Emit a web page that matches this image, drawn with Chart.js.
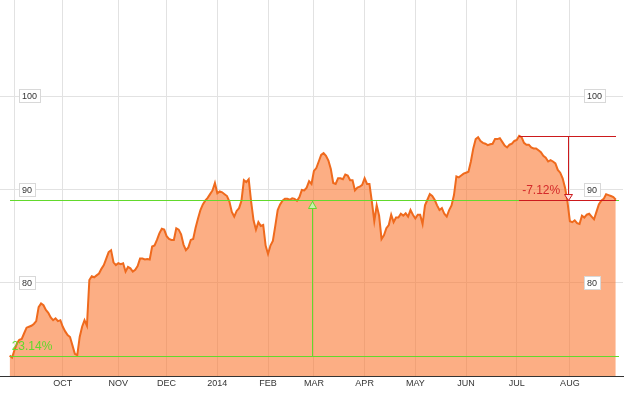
<!DOCTYPE html>
<html>
<head>
<meta charset="utf-8">
<style>
  html, body { margin: 0; padding: 0; background: #fff; }
  canvas { display: block; }
</style>
</head>
<body>
<canvas id="priceChart" width="632" height="393"></canvas>

<script src="https://cdn.jsdelivr.net/npm/chart.js"></script>
<script>
// daily closes, one per trading day, late Aug 2013 -> late Aug 2014
const price = [
  72.2, 72.0, 72.8, 73.5, 73.9, 74.0, 74.6, 75.2, 75.3, 75.4,
  75.6, 75.9, 77.4, 77.8, 77.6, 77.1, 76.8, 76.3, 76.0, 76.2,
  75.9, 76.0, 75.3, 74.8, 74.4, 74.2, 73.3, 72.4, 72.25, 74.2,
  75.3, 76.0, 75.4, 80.3, 80.7, 80.6, 80.8, 81.0, 81.5, 81.9,
  82.6, 83.3, 83.5, 82.2, 81.9, 82.1, 82.0, 82.1, 81.2, 81.7,
  81.55, 81.2, 81.4, 81.8, 82.6, 82.6, 82.5, 82.55, 82.5, 83.9,
  84.0, 84.6, 85.3, 85.8, 85.7, 85.0, 84.7, 84.6, 84.6, 85.85,
  85.7, 85.2, 84.1, 83.5, 83.8, 84.6, 84.7, 85.9, 86.9, 87.8,
  88.4, 88.8, 89.1, 89.5, 89.9, 90.7, 89.6, 89.8, 89.7, 89.5,
  89.3, 88.7, 87.6, 87.1, 87.7, 88.0, 88.8, 91.0, 90.8, 91.1,
  88.7, 86.7, 85.7, 86.5, 86.1, 86.2, 84.0, 83.1, 84.0, 84.5,
  86.1, 87.8, 88.4, 88.8, 89.0, 89.0, 88.9, 89.05, 89.0, 88.8,
  89.2, 89.95, 89.9, 90.2, 90.9, 90.6, 92.0, 92.3, 93.0, 93.7,
  93.9, 93.6, 93.1, 92.2, 90.7, 90.6, 91.2, 91.2, 91.1, 91.6,
  91.5, 91.0, 91.0, 89.9, 90.2, 90.3, 90.5, 91.2, 90.6, 90.6,
  88.7, 86.6, 88.3, 87.2, 84.7, 85.1, 85.85, 86.2, 87.3, 86.5,
  87.0, 87.0, 87.4, 87.2, 87.45, 87.1, 87.8, 87.3, 86.9, 87.3,
  87.3, 86.3, 88.3, 88.9, 89.5, 89.3, 88.9, 88.3, 87.8, 88.0,
  87.4, 87.1, 87.8, 88.3, 89.4, 91.4, 91.3, 91.5, 91.7, 91.8,
  91.9, 93.0, 94.4, 95.4, 95.6, 95.2, 95.0, 94.9, 94.75, 94.85,
  94.9, 95.4, 95.4, 95.5, 95.1, 94.7, 94.5, 94.8, 94.9, 95.2,
  95.3, 95.75, 95.6, 95.0, 94.8, 94.8, 94.5, 94.4, 94.4, 94.2,
  94.0, 93.6, 93.4, 93.0, 93.15, 93.0, 92.8, 92.1, 91.8, 91.2,
  90.2, 88.7, 86.6, 86.5, 86.7, 86.4, 86.3, 87.2, 87.0, 87.3,
  87.4, 87.1, 86.8, 87.6, 88.4, 88.8, 89.0, 89.5, 89.4, 89.3,
  89.2, 88.9
];

// first trading day of each month (index into price)
const monthStart = [2, 22, 45, 65, 86, 107, 126, 147, 168, 189, 210, 232];
const monthNames = ['', 'OCT', 'NOV', 'DEC', '2014', 'FEB', 'MAR', 'APR', 'MAY', 'JUN', 'JUL', 'AUG'];
const yLabels = [80, 90, 100];
const gainText = '23.14%';
const dropText = '-7.12%';

const padLeft = 4, padRight = 3;
const green = '#62d92c';
const red = '#cc1a1d';

const labels = [];
const series = [];
for (let i = 0; i < padLeft + price.length + padRight; i++) {
  const j = i - padLeft;
  labels.push(String(i));
  series.push(j >= 0 && j < price.length ? price[j] : null);
}

// 1px lines as rects on even pixels so the colour survives the photo
const snap = v => 2 * Math.round(v / 2);
function hline(ctx, x1, x2, y) {
  ctx.fillRect(Math.round(x1), y, Math.round(x2 - x1), 1);
}
function vline(ctx, x, y1, y2) {
  ctx.fillRect(x, Math.min(y1, y2), 1, Math.abs(y2 - y1));
}

const rangeMarks = {
  id: 'rangeMarks',
  afterDatasetsDraw(chart) {
    const { ctx, scales: { x, y } } = chart;
    const px = j => x.getPixelForValue(j + padLeft);
    const last = price.length - 1;
    const hi = price.indexOf(Math.max(...price));
    const yStart = snap(y.getPixelForValue(price[0]));
    const yEnd = snap(y.getPixelForValue(price[last]));
    const yHi = snap(y.getPixelForValue(price[hi]));

    ctx.save();
    ctx.lineWidth = 1;
    ctx.font = '12px Arial, "Liberation Sans", sans-serif';

    // whole-period gain
    ctx.fillStyle = green;
    hline(ctx, px(0), px(last) + 3, yEnd);
    hline(ctx, px(0), px(last) + 3, yStart);
    const gm = snap(px(last / 2));
    vline(ctx, gm, yStart, yEnd);
    ctx.beginPath();
    ctx.moveTo(gm + 0.5, yEnd + 1.5);
    ctx.lineTo(gm - 3.5, yEnd + 8.5);
    ctx.lineTo(gm + 4.5, yEnd + 8.5);
    ctx.closePath();
    ctx.fillStyle = '#c9f0b0';
    ctx.strokeStyle = green;
    ctx.fill(); ctx.stroke();
    ctx.fillStyle = green;
    ctx.textBaseline = 'alphabetic';
    ctx.fillText(gainText, px(0) + 2, yStart - 6);

    // drop from the high
    ctx.fillStyle = red;
    hline(ctx, px(hi), px(last), yHi);
    hline(ctx, px(hi), px(last), yEnd);
    const rm = snap(px((hi + last) / 2));
    vline(ctx, rm, yHi, yEnd);
    ctx.beginPath();
    ctx.moveTo(rm + 0.5, yEnd + 0.5);
    ctx.lineTo(rm - 3.5, yEnd - 5.5);
    ctx.lineTo(rm + 4.5, yEnd - 5.5);
    ctx.closePath();
    ctx.fillStyle = '#fde3e3';
    ctx.strokeStyle = red;
    ctx.fill(); ctx.stroke();
    ctx.fillStyle = '#d42a2a';
    ctx.fillText(dropText, px(hi) + 3, yEnd - 6);
    ctx.restore();
  },
  afterDraw(chart) {
    const { ctx, chartArea, scales: { y } } = chart;
    ctx.save();
    ctx.font = '9px Arial, "Liberation Sans", sans-serif';
    ctx.textBaseline = 'middle';
    ctx.lineWidth = 1;
    yLabels.forEach(v => {
      const yy = Math.round(y.getPixelForValue(v));
      const txt = String(v);
      const w = Math.ceil(ctx.measureText(txt).width) + 5;
      [chartArea.left + 19, chartArea.right - 39].forEach(bx => {
        ctx.fillStyle = '#fff';
        ctx.fillRect(bx, yy - 7, w, 14);
        ctx.strokeStyle = '#d8d8d8';
        ctx.strokeRect(bx + 0.5, yy - 6.5, w, 13);
        ctx.fillStyle = '#333';
        ctx.fillText(txt, bx + 3, yy + 0.5);
      });
    });
    ctx.restore();
  }
};

const ctx = document.getElementById('priceChart').getContext('2d');
new Chart(ctx, {
  type: 'line',
  data: {
    labels: labels,
    datasets: [{
      data: series,
      borderColor: '#ef6a1d',
      backgroundColor: 'rgba(250, 120, 50, 0.6)',
      borderWidth: 2,
      pointRadius: 0,
      tension: 0,
      fill: 'start'
    }]
  },
  options: {
    responsive: false,
    animation: false,
    layout: { padding: { left: 0, right: 9, top: 0, bottom: 2 } },
    plugins: { legend: { display: false }, tooltip: { enabled: false } },
    scales: {
      x: {
        grid: { color: '#e2e2e2', drawTicks: false },
        border: { color: '#333', width: 1 },
        ticks: {
          autoSkip: false,
          maxRotation: 0,
          padding: 2,
          color: '#333',
          font: { size: 9, family: 'Arial, "Liberation Sans", sans-serif' },
          callback: function (value) {
            const m = monthStart.indexOf(value - padLeft);
            return m >= 0 ? monthNames[m] : null;
          }
        }
      },
      y: {
        min: 70,
        max: 110.3,
        border: { display: false },
        grid: {
          drawTicks: false,
          color: c => yLabels.includes(c.tick.value) ? '#e2e2e2' : 'rgba(0,0,0,0)'
        },
        ticks: { display: false, stepSize: 10 }
      }
    }
  },
  plugins: [rangeMarks]
});
</script>
</body>
</html>
